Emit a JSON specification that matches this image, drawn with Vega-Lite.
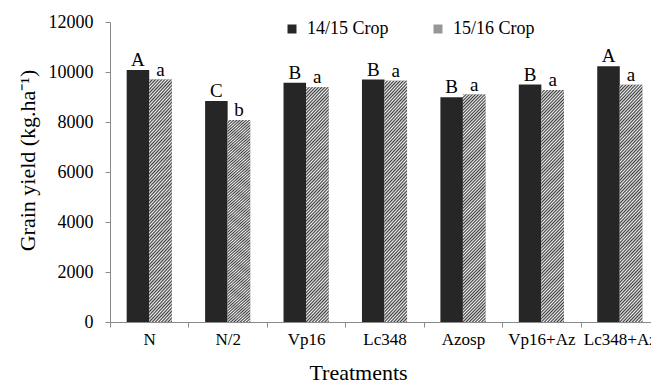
{
  "$schema": "https://vega.github.io/schema/vega-lite/v6.json",
  "autosize": {"type": "none"},
  "padding": {"left": 110, "top": 22, "right": 0, "bottom": 61},
  "width": 541,
  "height": 300,
  "background": "white",
  "config": {
    "view": {"stroke": null},
    "font": "Times New Roman, Liberation Serif, serif"
  },
  "data": {
    "values": [
      {"treatment": "N", "crop": "14/15 Crop", "yield": 10080, "letter": "A"},
      {"treatment": "N", "crop": "15/16 Crop", "yield": 9700, "letter": "a"},
      {"treatment": "N/2", "crop": "14/15 Crop", "yield": 8840, "letter": "C"},
      {"treatment": "N/2", "crop": "15/16 Crop", "yield": 8080, "letter": "b"},
      {"treatment": "Vp16", "crop": "14/15 Crop", "yield": 9570, "letter": "B"},
      {"treatment": "Vp16", "crop": "15/16 Crop", "yield": 9390, "letter": "a"},
      {"treatment": "Lc348", "crop": "14/15 Crop", "yield": 9700, "letter": "B"},
      {"treatment": "Lc348", "crop": "15/16 Crop", "yield": 9650, "letter": "a"},
      {"treatment": "Azosp", "crop": "14/15 Crop", "yield": 8990, "letter": "B"},
      {"treatment": "Azosp", "crop": "15/16 Crop", "yield": 9100, "letter": "a"},
      {"treatment": "Vp16+Az", "crop": "14/15 Crop", "yield": 9500, "letter": "B"},
      {"treatment": "Vp16+Az", "crop": "15/16 Crop", "yield": 9280, "letter": "a"},
      {"treatment": "Lc348+Az", "crop": "14/15 Crop", "yield": 10230, "letter": "A"},
      {"treatment": "Lc348+Az", "crop": "15/16 Crop", "yield": 9490, "letter": "a"}
    ]
  },
  "encoding": {
    "x": {
      "field": "treatment",
      "type": "nominal",
      "sort": ["N", "N/2", "Vp16", "Lc348", "Azosp", "Vp16+Az", "Lc348+Az"],
      "scale": {"type": "band", "range": [0, 549], "paddingInner": 0, "paddingOuter": 0},
      "axis": {
        "title": "Treatments",
        "titleFont": "Times New Roman, Liberation Serif, serif",
        "titleFontSize": 22,
        "titleFontWeight": "normal",
        "titleColor": "#000",
        "titleX": 248,
        "titleY": 57,
        "titleAlign": "center",
        "titleBaseline": "alphabetic",
        "labelAngle": 0,
        "labelFont": "Times New Roman, Liberation Serif, serif",
        "labelFontSize": 17,
        "labelFontWeight": "normal",
        "labelColor": "#000",
        "labelPadding": 4,
        "labelOverlap": false,
        "labelBound": false,
        "tickBand": "extent",
        "tickSize": 5,
        "tickColor": "#8a8a8a",
        "domainColor": "#8a8a8a",
        "grid": false
      }
    },
    "xOffset": {
      "field": "crop",
      "type": "nominal",
      "scale": {"domain": ["14/15 Crop", "15/16 Crop"], "paddingInner": 0, "paddingOuter": 0.74}
    },
    "y": {
      "field": "yield",
      "type": "quantitative",
      "scale": {"domain": [0, 12000], "nice": false},
      "axis": {
        "title": "Grain yield (kg.ha⁻¹)",
        "titleFont": "Times New Roman, Liberation Serif, serif",
        "titleFontSize": 22,
        "titleFontWeight": "normal",
        "titleColor": "#000",
        "titleAngle": -90,
        "titleX": -83,
        "titleY": 138,
        "titleAlign": "center",
        "titleBaseline": "middle",
        "values": [0, 2000, 4000, 6000, 8000, 10000, 12000],
        "format": "d",
        "labelFont": "Times New Roman, Liberation Serif, serif",
        "labelFontSize": 18,
        "labelFontWeight": "normal",
        "labelColor": "#000",
        "labelPadding": 12,
        "labelAlign": "right",
        "ticks": true,
        "tickSize": 5,
        "tickColor": "#8a8a8a",
        "domainColor": "#8a8a8a",
        "grid": false
      }
    }
  },
  "layer": [
    {
      "mark": {"type": "bar"},
      "encoding": {
        "color": {
          "field": "crop",
          "type": "nominal",
          "scale": {"domain": ["14/15 Crop", "15/16 Crop"], "range": ["#262626", "#979797"]},
          "legend": {
            "orient": "none",
            "legendX": 173,
            "legendY": -2,
            "direction": "horizontal",
            "title": null,
            "padding": 0,
            "symbolType": "square",
            "symbolSize": 81,
            "symbolOpacity": 1,
            "labelFont": "Times New Roman, Liberation Serif, serif",
            "labelFontSize": 18,
            "labelFontWeight": "normal",
            "labelColor": "#000",
            "labelOffset": 6,
            "columnPadding": 40,
            "encode": {
              "symbols": {
                "update": {
                  "fill": [
                    {
                      "test": "datum.value === '15/16 Crop'",
                      "value": {
                        "gradient": "linear", "x1": 0, "y1": 0, "x2": 1, "y2": 1,
                        "stops": [
                          {"offset": 0, "color": "#3a3a3a"},
                          {"offset": 0.125, "color": "#f4f4f4"},
                          {"offset": 0.25, "color": "#3a3a3a"},
                          {"offset": 0.375, "color": "#f4f4f4"},
                          {"offset": 0.5, "color": "#3a3a3a"},
                          {"offset": 0.625, "color": "#f4f4f4"},
                          {"offset": 0.75, "color": "#3a3a3a"},
                          {"offset": 0.875, "color": "#f4f4f4"},
                          {"offset": 1, "color": "#3a3a3a"}
                        ]
                      }
                    },
                    {"value": "#262626"}
                  ]
                }
              }
            }
          }
        }
      }
    },
    {
      "transform": [{"filter": "datum.crop === '15/16 Crop'"}],
      "mark": {
        "type": "bar",
        "color": {
          "gradient": "linear", "x1": 0, "y1": 0, "x2": 0.11, "y2": 1.1,
          "stops": [
            {"offset": 0, "color": "#3a3a3a"}, {"offset": 0.00625, "color": "#f4f4f4"}, {"offset": 0.0125, "color": "#3a3a3a"}, {"offset": 0.01875, "color": "#f4f4f4"}, {"offset": 0.025, "color": "#3a3a3a"}, {"offset": 0.03125, "color": "#f4f4f4"}, {"offset": 0.0375, "color": "#3a3a3a"}, {"offset": 0.04375, "color": "#f4f4f4"},
            {"offset": 0.05, "color": "#3a3a3a"}, {"offset": 0.05625, "color": "#f4f4f4"}, {"offset": 0.0625, "color": "#3a3a3a"}, {"offset": 0.06875, "color": "#f4f4f4"}, {"offset": 0.075, "color": "#3a3a3a"}, {"offset": 0.08125, "color": "#f4f4f4"}, {"offset": 0.0875, "color": "#3a3a3a"}, {"offset": 0.09375, "color": "#f4f4f4"},
            {"offset": 0.1, "color": "#3a3a3a"}, {"offset": 0.10625, "color": "#f4f4f4"}, {"offset": 0.1125, "color": "#3a3a3a"}, {"offset": 0.11875, "color": "#f4f4f4"}, {"offset": 0.125, "color": "#3a3a3a"}, {"offset": 0.13125, "color": "#f4f4f4"}, {"offset": 0.1375, "color": "#3a3a3a"}, {"offset": 0.14375, "color": "#f4f4f4"},
            {"offset": 0.15, "color": "#3a3a3a"}, {"offset": 0.15625, "color": "#f4f4f4"}, {"offset": 0.1625, "color": "#3a3a3a"}, {"offset": 0.16875, "color": "#f4f4f4"}, {"offset": 0.175, "color": "#3a3a3a"}, {"offset": 0.18125, "color": "#f4f4f4"}, {"offset": 0.1875, "color": "#3a3a3a"}, {"offset": 0.19375, "color": "#f4f4f4"},
            {"offset": 0.2, "color": "#3a3a3a"}, {"offset": 0.20625, "color": "#f4f4f4"}, {"offset": 0.2125, "color": "#3a3a3a"}, {"offset": 0.21875, "color": "#f4f4f4"}, {"offset": 0.225, "color": "#3a3a3a"}, {"offset": 0.23125, "color": "#f4f4f4"}, {"offset": 0.2375, "color": "#3a3a3a"}, {"offset": 0.24375, "color": "#f4f4f4"},
            {"offset": 0.25, "color": "#3a3a3a"}, {"offset": 0.25625, "color": "#f4f4f4"}, {"offset": 0.2625, "color": "#3a3a3a"}, {"offset": 0.26875, "color": "#f4f4f4"}, {"offset": 0.275, "color": "#3a3a3a"}, {"offset": 0.28125, "color": "#f4f4f4"}, {"offset": 0.2875, "color": "#3a3a3a"}, {"offset": 0.29375, "color": "#f4f4f4"},
            {"offset": 0.3, "color": "#3a3a3a"}, {"offset": 0.30625, "color": "#f4f4f4"}, {"offset": 0.3125, "color": "#3a3a3a"}, {"offset": 0.31875, "color": "#f4f4f4"}, {"offset": 0.325, "color": "#3a3a3a"}, {"offset": 0.33125, "color": "#f4f4f4"}, {"offset": 0.3375, "color": "#3a3a3a"}, {"offset": 0.34375, "color": "#f4f4f4"},
            {"offset": 0.35, "color": "#3a3a3a"}, {"offset": 0.35625, "color": "#f4f4f4"}, {"offset": 0.3625, "color": "#3a3a3a"}, {"offset": 0.36875, "color": "#f4f4f4"}, {"offset": 0.375, "color": "#3a3a3a"}, {"offset": 0.38125, "color": "#f4f4f4"}, {"offset": 0.3875, "color": "#3a3a3a"}, {"offset": 0.39375, "color": "#f4f4f4"},
            {"offset": 0.4, "color": "#3a3a3a"}, {"offset": 0.40625, "color": "#f4f4f4"}, {"offset": 0.4125, "color": "#3a3a3a"}, {"offset": 0.41875, "color": "#f4f4f4"}, {"offset": 0.425, "color": "#3a3a3a"}, {"offset": 0.43125, "color": "#f4f4f4"}, {"offset": 0.4375, "color": "#3a3a3a"}, {"offset": 0.44375, "color": "#f4f4f4"},
            {"offset": 0.45, "color": "#3a3a3a"}, {"offset": 0.45625, "color": "#f4f4f4"}, {"offset": 0.4625, "color": "#3a3a3a"}, {"offset": 0.46875, "color": "#f4f4f4"}, {"offset": 0.475, "color": "#3a3a3a"}, {"offset": 0.48125, "color": "#f4f4f4"}, {"offset": 0.4875, "color": "#3a3a3a"}, {"offset": 0.49375, "color": "#f4f4f4"},
            {"offset": 0.5, "color": "#3a3a3a"}, {"offset": 0.50625, "color": "#f4f4f4"}, {"offset": 0.5125, "color": "#3a3a3a"}, {"offset": 0.51875, "color": "#f4f4f4"}, {"offset": 0.525, "color": "#3a3a3a"}, {"offset": 0.53125, "color": "#f4f4f4"}, {"offset": 0.5375, "color": "#3a3a3a"}, {"offset": 0.54375, "color": "#f4f4f4"},
            {"offset": 0.55, "color": "#3a3a3a"}, {"offset": 0.55625, "color": "#f4f4f4"}, {"offset": 0.5625, "color": "#3a3a3a"}, {"offset": 0.56875, "color": "#f4f4f4"}, {"offset": 0.575, "color": "#3a3a3a"}, {"offset": 0.58125, "color": "#f4f4f4"}, {"offset": 0.5875, "color": "#3a3a3a"}, {"offset": 0.59375, "color": "#f4f4f4"},
            {"offset": 0.6, "color": "#3a3a3a"}, {"offset": 0.60625, "color": "#f4f4f4"}, {"offset": 0.6125, "color": "#3a3a3a"}, {"offset": 0.61875, "color": "#f4f4f4"}, {"offset": 0.625, "color": "#3a3a3a"}, {"offset": 0.63125, "color": "#f4f4f4"}, {"offset": 0.6375, "color": "#3a3a3a"}, {"offset": 0.64375, "color": "#f4f4f4"},
            {"offset": 0.65, "color": "#3a3a3a"}, {"offset": 0.65625, "color": "#f4f4f4"}, {"offset": 0.6625, "color": "#3a3a3a"}, {"offset": 0.66875, "color": "#f4f4f4"}, {"offset": 0.675, "color": "#3a3a3a"}, {"offset": 0.68125, "color": "#f4f4f4"}, {"offset": 0.6875, "color": "#3a3a3a"}, {"offset": 0.69375, "color": "#f4f4f4"},
            {"offset": 0.7, "color": "#3a3a3a"}, {"offset": 0.70625, "color": "#f4f4f4"}, {"offset": 0.7125, "color": "#3a3a3a"}, {"offset": 0.71875, "color": "#f4f4f4"}, {"offset": 0.725, "color": "#3a3a3a"}, {"offset": 0.73125, "color": "#f4f4f4"}, {"offset": 0.7375, "color": "#3a3a3a"}, {"offset": 0.74375, "color": "#f4f4f4"},
            {"offset": 0.75, "color": "#3a3a3a"}, {"offset": 0.75625, "color": "#f4f4f4"}, {"offset": 0.7625, "color": "#3a3a3a"}, {"offset": 0.76875, "color": "#f4f4f4"}, {"offset": 0.775, "color": "#3a3a3a"}, {"offset": 0.78125, "color": "#f4f4f4"}, {"offset": 0.7875, "color": "#3a3a3a"}, {"offset": 0.79375, "color": "#f4f4f4"},
            {"offset": 0.8, "color": "#3a3a3a"}, {"offset": 0.80625, "color": "#f4f4f4"}, {"offset": 0.8125, "color": "#3a3a3a"}, {"offset": 0.81875, "color": "#f4f4f4"}, {"offset": 0.825, "color": "#3a3a3a"}, {"offset": 0.83125, "color": "#f4f4f4"}, {"offset": 0.8375, "color": "#3a3a3a"}, {"offset": 0.84375, "color": "#f4f4f4"},
            {"offset": 0.85, "color": "#3a3a3a"}, {"offset": 0.85625, "color": "#f4f4f4"}, {"offset": 0.8625, "color": "#3a3a3a"}, {"offset": 0.86875, "color": "#f4f4f4"}, {"offset": 0.875, "color": "#3a3a3a"}, {"offset": 0.88125, "color": "#f4f4f4"}, {"offset": 0.8875, "color": "#3a3a3a"}, {"offset": 0.89375, "color": "#f4f4f4"},
            {"offset": 0.9, "color": "#3a3a3a"}, {"offset": 0.90625, "color": "#f4f4f4"}, {"offset": 0.9125, "color": "#3a3a3a"}, {"offset": 0.91875, "color": "#f4f4f4"}, {"offset": 0.925, "color": "#3a3a3a"}, {"offset": 0.93125, "color": "#f4f4f4"}, {"offset": 0.9375, "color": "#3a3a3a"}, {"offset": 0.94375, "color": "#f4f4f4"},
            {"offset": 0.95, "color": "#3a3a3a"}, {"offset": 0.95625, "color": "#f4f4f4"}, {"offset": 0.9625, "color": "#3a3a3a"}, {"offset": 0.96875, "color": "#f4f4f4"}, {"offset": 0.975, "color": "#3a3a3a"}, {"offset": 0.98125, "color": "#f4f4f4"}, {"offset": 0.9875, "color": "#3a3a3a"}, {"offset": 0.99375, "color": "#f4f4f4"},
            {"offset": 1, "color": "#3a3a3a"}
          ]
        }
      }
    },
    {
      "mark": {
        "type": "text",
        "baseline": "alphabetic",
        "align": "center",
        "dy": -4,
        "font": "Times New Roman, Liberation Serif, serif",
        "fontSize": 19,
        "color": "#000"
      },
      "encoding": {
        "text": {"field": "letter"}
      }
    }
  ]
}
